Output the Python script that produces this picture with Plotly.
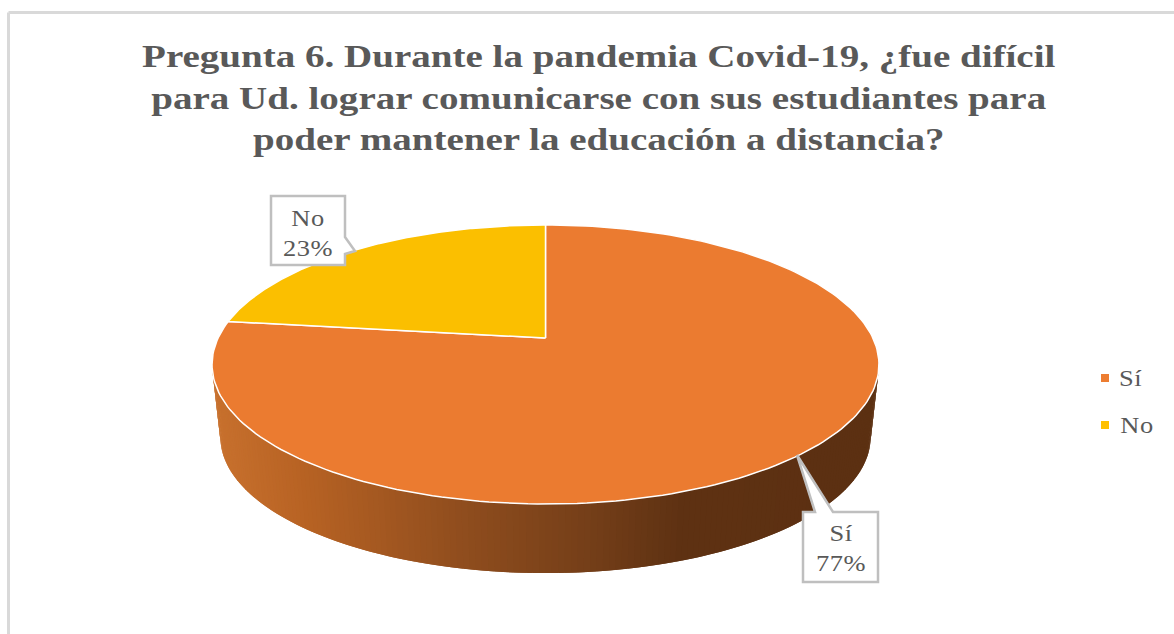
import numpy as np
import plotly.graph_objects as go

categories = ['Sí', 'No']
values = [77, 23]
colors = ['#EB7B30', '#FBBF00']
legend_colors = ['#ED7D31', '#FFC000']

title_lines = [
    'Pregunta 6. Durante la pandemia Covid-19, ¿fue difícil',
    'para Ud. lograr comunicarse con sus estudiantes para',
    'poder mantener la educación a distancia?',
]

# wall shading, screen x -> colour
wall_stops_x = [213, 300, 465, 590, 680, 880]
wall_stops_rgb = [(200, 113, 46), (184, 99, 36), (143, 77, 30), (117, 63, 25), (95, 50, 19), (92, 48, 18)]

TEXT = '#595959'
BORDER = '#BFBFBF'
FONT = 'Liberation Serif'

# pie is drawn with a small perspective, so the centre sits above the middle of the ellipse
APEX_X, APEX_Y = 545.5, 338
PERSP = 0.19
RX, RY = 327.4, 134.5
WALL_SCALE, WALL_DROP = 0.975, 73.2


def project(theta, scale=1.0, drop=0.0):
    d = 1 + PERSP * np.cos(theta)
    return (APEX_X + scale * RX * np.sin(theta) / d,
            APEX_Y - scale * RY * np.cos(theta) / d + drop)


def wall_color(x):
    rgb = [np.interp(x, wall_stops_x, [c[i] for c in wall_stops_rgb]) for i in range(3)]
    return 'rgb(%d,%d,%d)' % tuple(rgb)


fig = go.Figure()

# side wall, thin strips to fake the gradient. each one runs under the next to hide seams
t_start = np.arccos(-PERSP)
t_edges = np.linspace(t_start, 2 * np.pi - t_start, 171)
for i in range(len(t_edges) - 1):
    ts = t_edges[i:i + 3]
    xa, ya = project(ts)
    xb, yb = project(ts[::-1], WALL_SCALE, WALL_DROP)
    xs = list(xa) + list(xb)
    ys = list(ya) + list(yb)
    col = wall_color(project(t_edges[i] + 0.5 * (t_edges[1] - t_edges[0]))[0])
    fig.add_trace(go.Scatter(x=xs, y=ys, mode='lines', fill='toself', fillcolor=col,
                             line=dict(width=0), hoverinfo='skip', showlegend=False))

# top face
shares = np.array(values) / sum(values)
start = 0.0
for name, share, col in zip(categories, shares, colors):
    arc = np.linspace(start, start + share * 2 * np.pi, 200)
    xs, ys = project(arc)
    fig.add_trace(go.Scatter(x=[APEX_X] + list(xs) + [APEX_X], y=[APEX_Y] + list(ys) + [APEX_Y],
                             mode='lines', fill='toself', fillcolor=col,
                             line=dict(color='#FFFFFF', width=1.5),
                             name=name, text='%s %d%%' % (name, round(share * 100)),
                             hoverinfo='text', showlegend=False))
    start += share * 2 * np.pi

# legend drawn by hand, plotly's own leaves too wide a gap before the text
legend_y = [378, 425]
legend_text_x = [1131, 1136.5]
fig.add_trace(go.Scatter(x=[1105, 1105], y=legend_y, mode='markers', hoverinfo='skip', showlegend=False,
                         marker=dict(symbol='square', size=8, color=legend_colors)))
for name, tx, ty in zip(categories, legend_text_x, legend_y):
    fig.add_annotation(x=tx, y=ty, xref='x', yref='y', showarrow=False, text=name,
                       font=dict(family=FONT, size=23, color=TEXT))

# callout boxes
callouts = [
    ('M 271 196 L 345 196 L 345 237 L 355 251 L 345 254 L 345 265 L 271 265 Z', 308, 233.5),
    ('M 803 512 L 815 512 L 797 455 L 833 512 L 878 512 L 878 582 L 803 582 Z', 840.5, 548),
]
for i, (path, tx, ty) in enumerate(callouts):
    fig.add_shape(type='path', path=path, xref='x', yref='y', fillcolor='#FFFFFF',
                  line=dict(color=BORDER, width=2.5))
    fig.add_annotation(x=tx, y=ty, xref='x', yref='y', showarrow=False, align='center',
                       text='%s<br>%d%%' % (categories[::-1][i], values[::-1][i]),
                       font=dict(family=FONT, size=23, color=TEXT))

# chart frame, runs off the page on the right and the bottom
fig.add_shape(type='line', x0=8.5, y0=12.5, x1=1174, y1=12.5, xref='x', yref='y',
              line=dict(color='#D9D9D9', width=3))
fig.add_shape(type='line', x0=8.5, y0=12.5, x1=8.5, y1=634, xref='x', yref='y',
              line=dict(color='#D9D9D9', width=3))

fig.update_layout(
    width=1174, height=634,
    margin=dict(l=0, r=0, t=0, b=0),
    paper_bgcolor='#FFFFFF', plot_bgcolor='#FFFFFF',
    showlegend=False,
    title=dict(text='<br>'.join(title_lines), x=0.51, xanchor='center', y=0.894, yanchor='top',
               font=dict(family=FONT, size=32, color=TEXT, weight='bold')),
    xaxis=dict(range=[0, 1174], visible=False, fixedrange=True),
    yaxis=dict(range=[634, 0], visible=False, fixedrange=True),
)

# the original text is stretched sideways, so widen it the same way once plotly has drawn it
post_script = """
document.body.style.margin = '0';
function stretch(sel, sx, spacing) {
  document.querySelectorAll(sel).forEach(function (e) {
    e.style.transformBox = 'fill-box';
    e.style.transformOrigin = 'center';
    e.style.transform = 'scaleX(' + sx + ')';
    e.style.letterSpacing = spacing;
  });
}
stretch('.gtitle', 1.22, '0px');
stretch('.annotation-text', 1.15, '0.5px');
"""

fig.write_html('out.html', config=dict(displayModeBar=False), post_script=post_script)
